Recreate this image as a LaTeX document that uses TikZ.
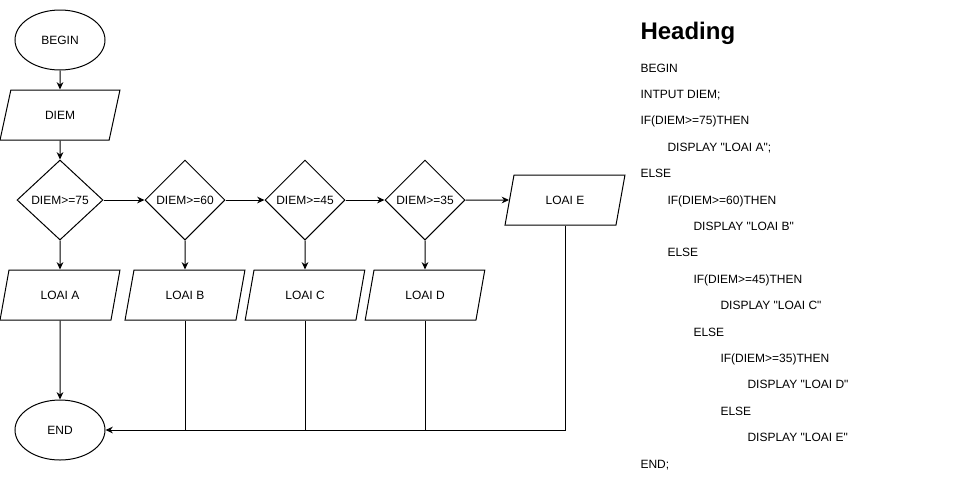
\documentclass[tikz,border=0pt]{standalone}
\usepackage{fontspec}
\setmainfont{Liberation Sans}[Ligatures=TeXOff]
\usetikzlibrary{shapes,arrows.meta,positioning}
\usepackage{xcolor}

\begin{document}
\begin{tikzpicture}[x=0.75pt, y=-0.75pt, >={Stealth[length=5.5pt,width=5pt]}, line width=0.75pt,
    font=\fontsize{9}{11}\selectfont]
      \tikzstyle{term} = [ellipse, draw, minimum width=67.5pt, minimum height=45pt, inner sep=0pt]
      \tikzstyle{io} = [trapezium, draw, trapezium left angle=68.2, trapezium right angle=111.8,
        trapezium stretches=true, minimum width=90pt, minimum height=37.5pt, inner sep=0pt]
      \tikzstyle{test} = [diamond, draw, minimum width=60pt, minimum height=60pt, inner sep=0pt]
      \tikzstyle{code} = [anchor=base west, inner sep=0pt]

      \useasboundingbox (0,0) rectangle (956,501);

      % flowchart
      \node[term] (begin) at (60,40) {BEGIN};
      \node[io] (diem) at (60,115) {DIEM};
      \node[test, minimum width=64.5pt] (d75) at (60,200) {DIEM>=75};
      \node[test] (d60) at (185,200) {DIEM>=60};
      \node[test] (d45) at (305,200) {DIEM>=45};
      \node[test] (d35) at (425,200) {DIEM>=35};
      \node[io] (loaiE) at (565,200) {LOAI E};
      \node[io] (loaiA) at (60,295) {LOAI A};
      \node[io] (loaiB) at (185,295) {LOAI B};
      \node[io] (loaiC) at (305,295) {LOAI C};
      \node[io] (loaiD) at (425,295) {LOAI D};
      \node[term] (end) at (60,430) {END};

      \draw[->] (begin) -- (diem);
      \draw[->] (diem) -- (d75);
      \draw[->] (d75) -- (d60);
      \draw[->] (d60) -- (d45);
      \draw[->] (d45) -- (d35);
      \draw[->] (d35) -- (loaiE);
      \draw[->] (d75) -- (loaiA);
      \draw[->] (d60) -- (loaiB);
      \draw[->] (d45) -- (loaiC);
      \draw[->] (d35) -- (loaiD);
      \draw[->] (loaiA) -- (end);
      \draw[->] (loaiE.south) |- (end.east);
      \draw (loaiB.south) -- (loaiB.south |- end.east);
      \draw (loaiC.south) -- (loaiC.south |- end.east);
      \draw (loaiD.south) -- (loaiD.south |- end.east);

      % pseudocode
      \node[code, font=\fontsize{18}{22}\selectfont\bfseries] (head) at (640,39) {Heading};
      \node[code] (c1) at (640,72) {BEGIN};
      \node[code] (c2) at (640,98.4) {INTPUT DIEM;};
      \node[code] (c3) at (640,124.8) {IF(DIEM>=75)THEN};
      \node[code] (c4) at (667,151.2) {DISPLAY "LOAI A";};
      \node[code] (c5) at (640,177.6) {ELSE};
      \node[code] (c6) at (667,204) {IF(DIEM>=60)THEN};
      \node[code] (c7) at (693,230.4) {DISPLAY "LOAI B"};
      \node[code] (c8) at (667,256.8) {ELSE};
      \node[code] (c9) at (693,283.2) {IF(DIEM>=45)THEN};
      \node[code] (c10) at (720,309.6) {DISPLAY "LOAI C"};
      \node[code] (c11) at (693,336) {ELSE};
      \node[code] (c12) at (720,362.4) {IF(DIEM>=35)THEN};
      \node[code] (c13) at (747,388.8) {DISPLAY "LOAI D"};
      \node[code] (c14) at (720,415.2) {ELSE};
      \node[code] (c15) at (747,441.6) {DISPLAY "LOAI E"};
      \node[code] (c16) at (640,468) {END;};
    \end{tikzpicture}
\end{document}
